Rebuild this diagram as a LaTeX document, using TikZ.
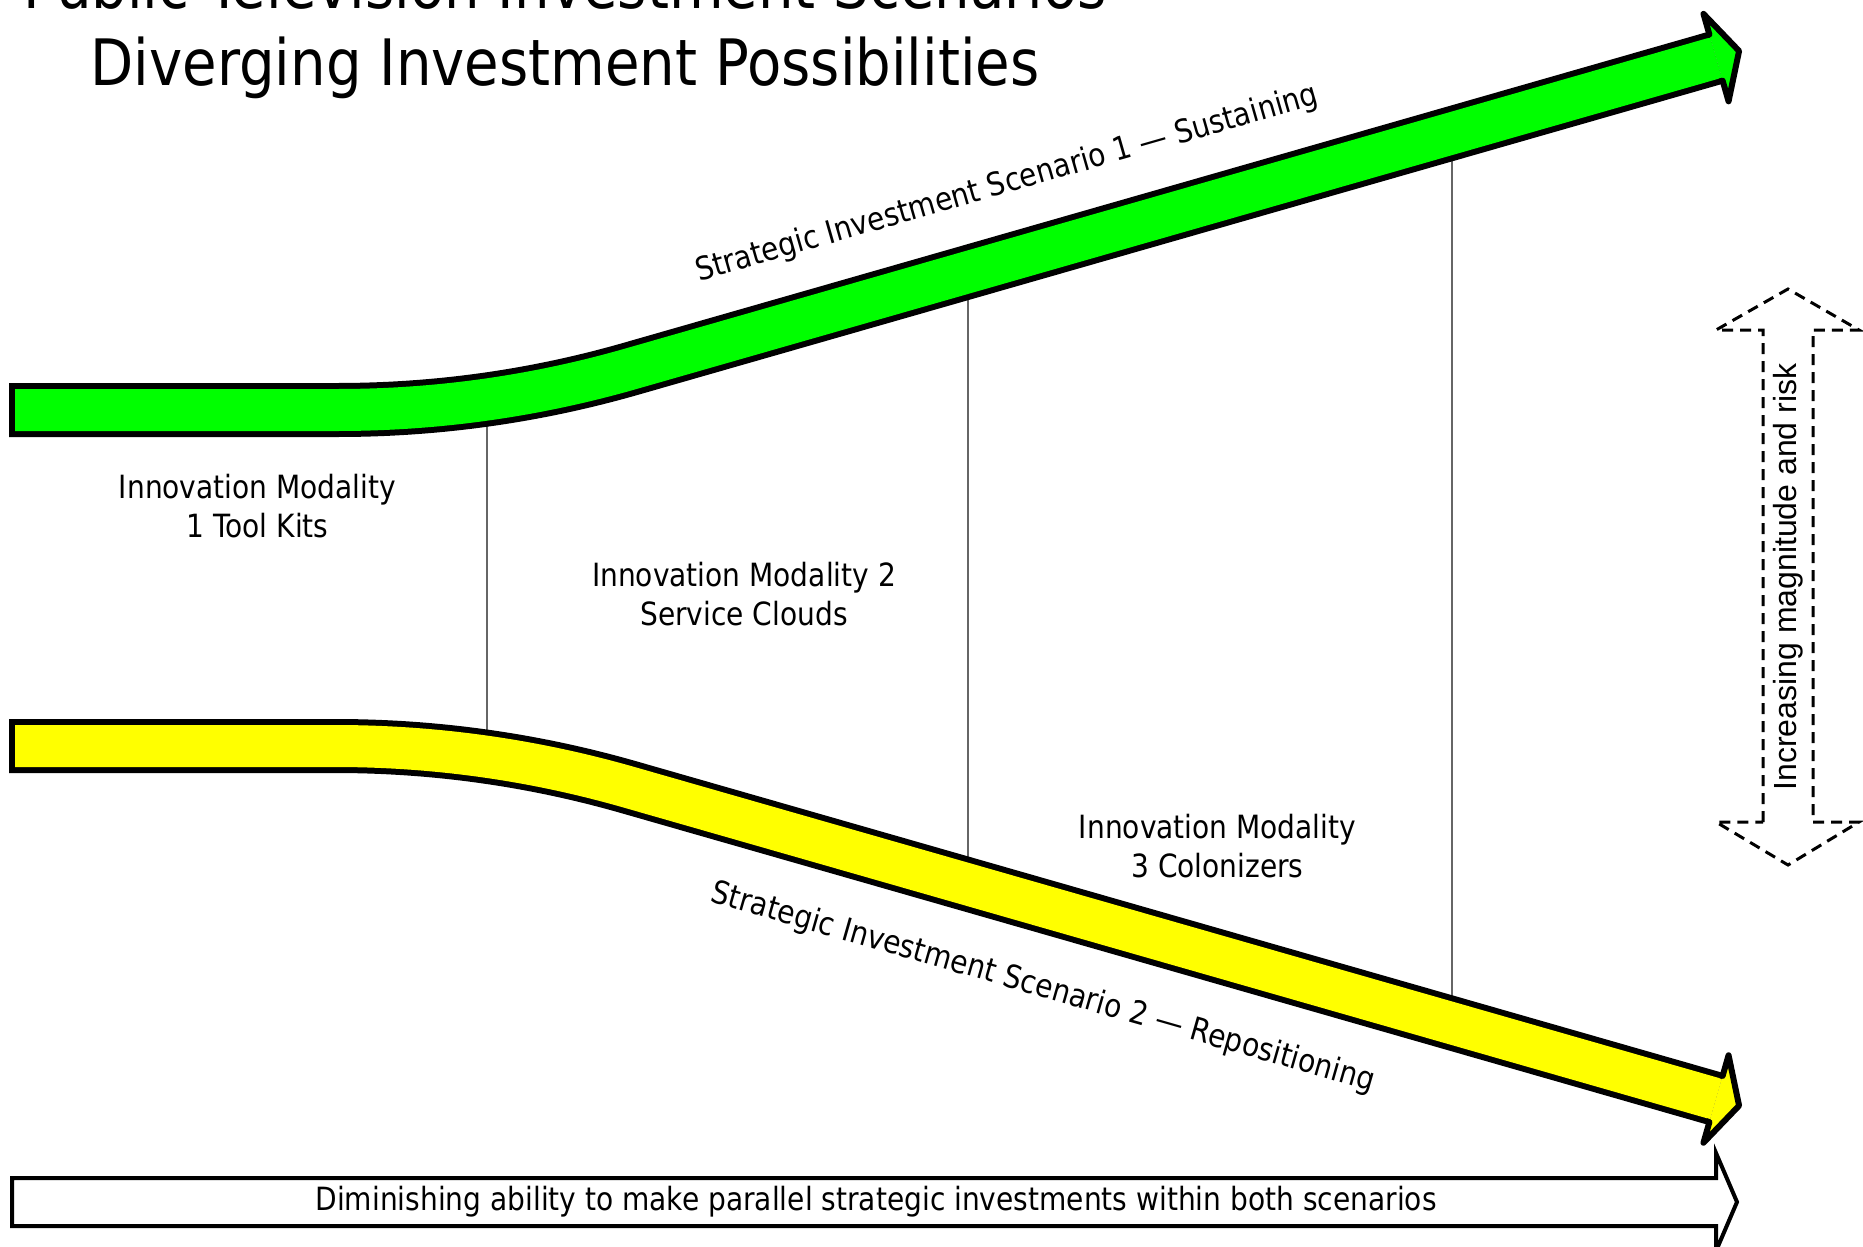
\documentclass[tikz,border=0pt]{standalone}
\usepackage{fontspec}
\setmainfont{DejaVu Sans}[FakeStretch=0.877]
\newfontfamily\arialfont{Liberation Sans}
\definecolor{arrowgreen}{HTML}{00FF00}
\definecolor{arrowyellow}{HTML}{FFFF00}
\begin{document}
\begin{tikzpicture}[x=1pt,y=-1pt,
  bodytext/.style={font=\fontsize{32}{38.4}\selectfont, align=center, inner sep=0pt},
  titletext/.style={font=\fontsize{64}{76.8}\selectfont, inner sep=0pt, anchor=base},
  shaftouter/.style={line width=54pt, black, line cap=butt, line join=round},
  shaftinner/.style={line width=42pt, line cap=butt, line join=round, shorten <=6pt},
  headoutline/.style={line width=6pt, black, line join=round},
  divider/.style={line width=1.5pt, black!60},
  dashedframe/.style={line width=3pt, dash pattern=on 11pt off 7pt, line join=miter}]

\useasboundingbox (0,0) rectangle (1863,1247);
\clip (0,0) rectangle (1863,1247);

% title
\node[titletext] (title1) at (565,8.5) {Public Television Investment Scenarios};
\node[titletext] (title2) at (565,85.5) {Diverging Investment Possibilities};

% divider lines between the two scenario arrows
\coordinate (d1top) at (487,405);
\coordinate (d1bot) at (487,750);
\coordinate (d2top) at (968,272);
\coordinate (d2bot) at (968,884);
\coordinate (d3top) at (1452,133);
\coordinate (d3bot) at (1452,1023);
\draw[divider] (d1top) -- (d1bot);
\draw[divider] (d2top) -- (d2bot);
\draw[divider] (d3top) -- (d3bot);

% scenario 1 arrow (green, rising)
\def\greenshaft{(9,410) -- (337,410) .. controls (437,410) and (535.1,396.3) .. (631.2,368.7) -- (1716,57.6)}
\draw[shaftouter] \greenshaft;
\draw[shaftinner, arrowgreen] \greenshaft;
\begin{scope}[shift={(1716,57.6)}, rotate=16]
  \fill[arrowgreen] (0,-24) -- (0,-45.5) -- (24,0) -- (0,45.5) -- (0,24) -- cycle;
  \draw[headoutline] (-3,-24) -- (0,-24) -- (0,-45.5) -- (24,0) -- (0,45.5) -- (0,24) -- (-3,24);
\end{scope}

% scenario 2 arrow (yellow, falling)
\def\yellowshaft{(9,746) -- (335,746) .. controls (435,746) and (533.1,759.7) .. (629.2,787.3) -- (1716,1099)}
\draw[shaftouter] \yellowshaft;
\draw[shaftinner, arrowyellow] \yellowshaft;
\begin{scope}[shift={(1716,1099)}, rotate=-16]
  \fill[arrowyellow] (0,-24) -- (0,-45.5) -- (24,0) -- (0,45.5) -- (0,24) -- cycle;
  \draw[headoutline] (-3,-24) -- (0,-24) -- (0,-45.5) -- (24,0) -- (0,45.5) -- (0,24) -- (-3,24);
\end{scope}

% scenario labels along the arrows
\node[bodytext, rotate=16] (scen1) at (1007,184) {Strategic Investment Scenario 1 — Sustaining};
\node[bodytext, rotate=-16] (scen2) at (1043,988) {Strategic Investment Scenario 2 — Repositioning};

% modality labels
\node[bodytext] (mod1) at (257.5,506) {Innovation Modality\\1 Tool Kits};
\node[bodytext] (mod2) at (744,594) {Innovation Modality 2\\Service Clouds};
\node[bodytext] (mod3) at (1217.5,846) {Innovation Modality\\3 Colonizers};

% dashed double arrow on the right
\draw[dashedframe] (1763,822) -- (1763,330) -- (1716,330) -- (1788,289) -- (1859,330)
  -- (1813,330) -- (1813,822) -- (1859,822) -- (1788,865) -- (1716,822) -- cycle;
\node[font=\arialfont\fontsize{32}{38.4}\selectfont, rotate=90, inner sep=0pt] (risk) at (1788,577) {Increasing magnitude and risk};

% bottom outlined arrow
\draw[line width=4pt, fill=white, line join=miter] (12,1178) -- (1716,1178) -- (1716,1153) -- (1737,1202)
  -- (1716,1251) -- (1716,1226) -- (12,1226) -- cycle;
\node[bodytext] (dimin) at (876,1202) {Diminishing ability to make parallel strategic investments within both scenarios};

\end{tikzpicture}
\end{document}
